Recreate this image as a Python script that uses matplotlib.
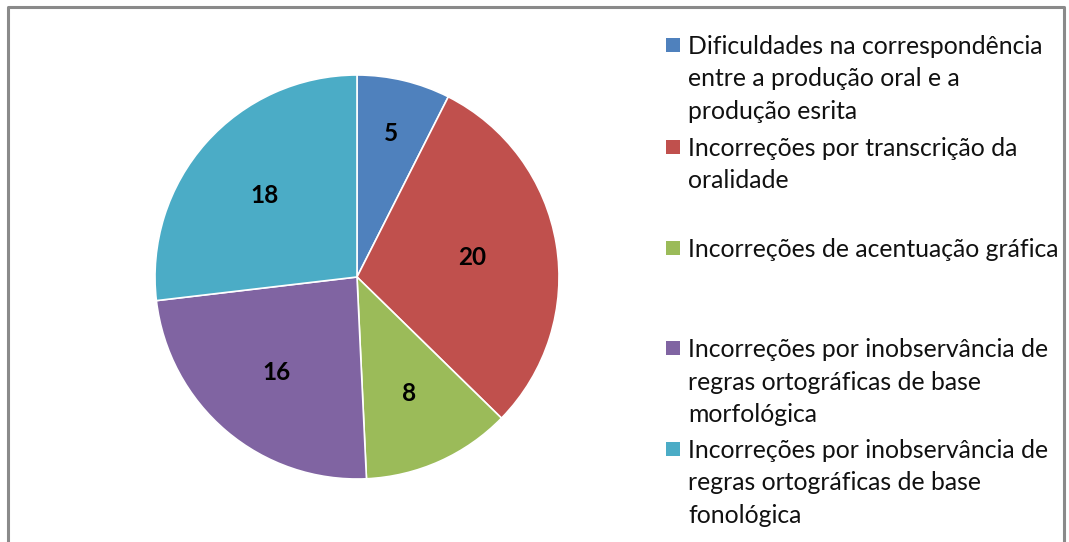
import numpy as np
import matplotlib.pyplot as plt
from matplotlib.patches import Rectangle
from matplotlib.lines import Line2D

# data
labels = ['Dificuldades na correspondência\nentre a produção oral e a\nprodução esrita',
          'Incorreções por transcrição da\noralidade',
          'Incorreções de acentuação gráfica',
          'Incorreções por inobservância de\nregras ortográficas de base\nmorfológica',
          'Incorreções por inobservância de\nregras ortográficas de base\nfonológica']
values = [5, 20, 8, 16, 18]
colors = ['#4F81BD', '#C0504D', '#9BBB59', '#8064A2', '#4BACC6']

plt.rcParams['font.family'] = ['Lato', 'DejaVu Sans']

W, H = 1069, 542
fig = plt.figure(figsize=(W / 100, H / 100), dpi=100)

# pie axes
cx, cy, r = 357, 277, 202
ax = fig.add_axes([(cx - r) / W, (H - cy - r) / H, 2 * r / W, 2 * r / H])
wedges, texts = ax.pie(values, colors=colors, startangle=90, counterclock=False,
                       labels=[str(v) for v in values],
                       wedgeprops=dict(edgecolor='white', linewidth=1.2))
# label placement roughly like excel's best fit
label_dist = [0.73, 0.58, 0.63, 0.62, 0.61]
for w, t, d in zip(wedges, texts, label_dist):
    ang = np.deg2rad((w.theta1 + w.theta2) / 2)
    t.set_position((d * np.cos(ang), d * np.sin(ang)))
    t.set_ha('center')
    t.set_va('center')
    t.set_fontsize(17.5)
    t.set_fontweight('bold')
    t.set_color('black')
ax.set_xlim(-1, 1)
ax.set_ylim(-1, 1)
ax.set_aspect('equal')

# legend, drawn by hand
entry_y = [45, 147, 248, 348, 449]
for lab, col, y in zip(labels, colors, entry_y):
    fig.patches.append(Rectangle((666 / W, (H - y - 7) / H), 14 / W, 14 / H,
                                 transform=fig.transFigure, facecolor=col,
                                 edgecolor='none'))
    fig.text(688 / W, (H - y + 10) / H, lab, fontsize=17.8, va='top', ha='left',
             color='#111111', linespacing=1.5)

# chart border (no bottom edge visible)
bc = '#8a8a8a'
fig.lines.append(Line2D([8 / W, 8 / W, 1064 / W, 1064 / W],
                        [0, (H - 7) / H, (H - 7) / H, 0],
                        transform=fig.transFigure, color=bc, linewidth=2.2))

fig.savefig('out.png', dpi=100)
